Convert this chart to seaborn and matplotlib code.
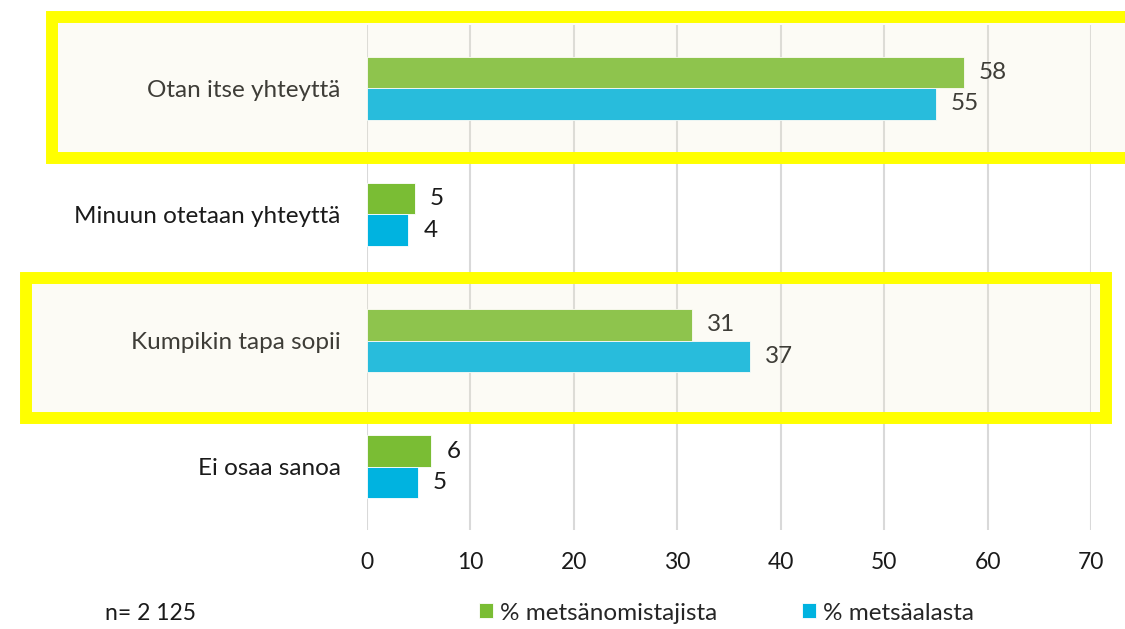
import pandas as pd
import seaborn as sns
import matplotlib.pyplot as plt
from matplotlib.patches import Rectangle

categories = ["Otan itse yhteyttä", "Minuun otetaan yhteyttä", "Kumpikin tapa sopii", "Ei osaa sanoa"]
series_names = ["% metsänomistajista", "% metsäalasta"]
owners = [57.7, 4.6, 31.4, 6.2]
forest_area = [55.0, 4.0, 37.0, 4.9]
x_ticks = [0, 10, 20, 30, 40, 50, 60, 70]
note = "n= 2 125"

sns.set_theme(style="white")
plt.rcParams['font.family'] = ['Lato', 'DejaVu Sans']

df = pd.DataFrame({
    'Vaihtoehto': categories * 2,
    'Osuus': owners + forest_area,
    'Sarja': [series_names[0]] * 4 + [series_names[1]] * 4,
})

fig = plt.figure(figsize=(11.25, 6.29), dpi=100)
ax = fig.add_axes([367 / 1125, 1 - 530 / 629, (1091 - 367) / 1125, 505 / 629])

sns.barplot(data=df, y='Vaihtoehto', x='Osuus', hue='Sarja', hue_order=series_names,
            palette=['#7abd34', '#00b3e0'], saturation=1, width=0.5, orient='h', ax=ax,
            edgecolor='white', linewidth=0.6)

for cont in ax.containers:
    ax.bar_label(cont, fmt='%.0f', padding=11, fontsize=17.5, color='#1a1a1a')

ax.set_xlim(0, 70)
ax.set_xticks(x_ticks)
ax.set_xlabel('')
ax.set_ylabel('')
ax.grid(axis='x', color='#d9d9d9', linewidth=1.5)
ax.set_axisbelow(True)
for s in ax.spines.values():
    s.set_visible(False)
ax.tick_params(axis='y', length=0, pad=19, labelsize=17.5, labelcolor='#1a1a1a')
ax.tick_params(axis='x', length=0, pad=16, labelsize=16.5, labelcolor='#1a1a1a')

sns.move_legend(ax, 'center left', bbox_to_anchor=(479 / 1125, 1 - 613 / 629),
                bbox_transform=fig.transFigure, ncol=2, frameon=False, title=None,
                fontsize=17.5, handlelength=0.58, handleheight=0.58, handletextpad=0.28,
                columnspacing=3.5, borderaxespad=0, borderpad=0)

fig.text(105 / 1125, 1 - 613 / 629, note, fontsize=16.5, color='#1a1a1a', va='center')

# highlight boxes (px, y from top)
for x0, x1, y0, y1 in [(52, 1140, 17, 158), (26, 1106, 277.5, 418)]:
    fig.patches.append(Rectangle((x0 / 1125, 1 - y1 / 629), (x1 - x0) / 1125, (y1 - y0) / 629,
                                 transform=fig.transFigure, facecolor=(0.95, 0.92, 0.79, 0.17),
                                 edgecolor='#ffff00', linewidth=8.6, zorder=5))

fig.savefig('out.png', dpi=100)
